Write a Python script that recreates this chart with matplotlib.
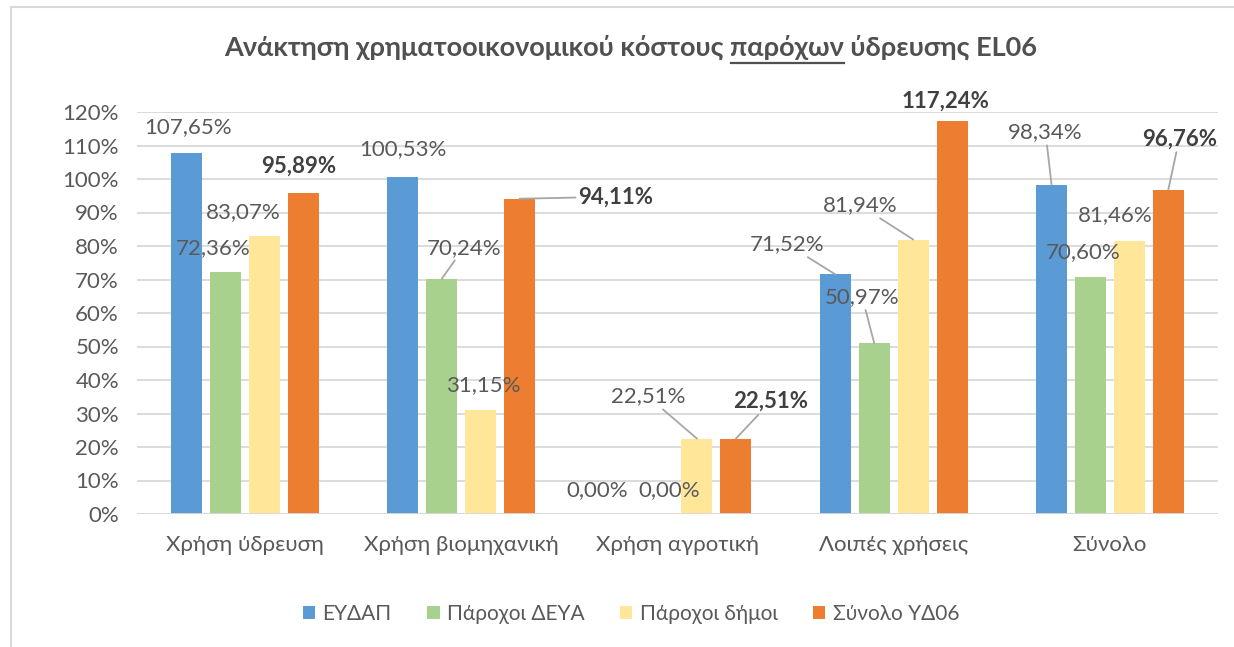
import matplotlib
matplotlib.use("Agg")
import matplotlib.pyplot as plt
from matplotlib.lines import Line2D
from matplotlib.text import Text

plt.rcParams['font.family'] = ['Lato', 'Noto Sans', 'DejaVu Sans']

# ---- data -------------------------------------------------------------
categories = ["Χρήση ύδρευση", "Χρήση βιομηχανική", "Χρήση αγροτική",
              "Λοιπές χρήσεις", "Σύνολο"]
series_names = ["ΕΥΔΑΠ", "Πάροχοι ΔΕΥΑ", "Πάροχοι δήμοι", "Σύνολο ΥΔ06"]
eydap = [107.65, 100.53, 0.00, 71.52, 98.34]
deya = [72.36, 70.24, 0.00, 50.97, 70.60]
dimoi = [83.07, 31.15, 22.51, 81.94, 81.46]
synolo = [95.89, 94.11, 22.51, 117.24, 96.76]
yticks = list(range(0, 121, 10))
title_pre = "Ανάκτηση χρηματοοικονομικού κόστους "
title_ul = "παρόχων"
title_post = " ύδρευσης EL06"

series = [eydap, deya, dimoi, synolo]
colors = ["#5B9BD5", "#A9D18E", "#FFE699", "#ED7D31"]

# label placement: pixel offset from the top-centre of each bar
# (one row per series, one entry per category), and leader-line flags
label_offsets = [
    [(1, 26), (0, 28), (-22, 24), (-48, 30), (-6, 52)],
    [(-13, 24), (22, 31), (11, 24), (-12, 46), (-7, 25)],
    [(-21, 24), (3, 25), (-49, 42), (-53, 34), (-14, 26)],
    [(-5, 27), (96, 2), (35, 37), (-7, 20), (11, 51)],
]
leaders = [
    [False, False, False, True, True],
    [False, True, False, True, False],
    [False, False, True, True, False],
    [False, True, True, False, True],
]

FS = 16
W, H = 1234, 647
fig = plt.figure(figsize=(W / 100, H / 100), dpi=100)
fig.patch.set_facecolor("white")

# chart-area frame
fig.add_artist(Line2D([11 / W, 11 / W], [0, 1 - 7 / H], color="#D9D9D9", lw=1.5))
fig.add_artist(Line2D([11 / W, 1], [1 - 7 / H, 1 - 7 / H], color="#D9D9D9", lw=1.5))

ax_left, ax_right, ax_top, ax_bot = 137, 1218, 112, 514
ax = fig.add_axes([ax_left / W, 1 - ax_bot / H, (ax_right - ax_left) / W,
                   (ax_bot - ax_top) / H])

n = len(series)
step = 0.18
width = 0.143
xs = list(range(len(categories)))
for i, (vals, col, name) in enumerate(zip(series, colors, series_names)):
    pos = [x + (i - (n - 1) / 2) * step for x in xs]
    ax.bar(pos, vals, width=width, color=col, label=name, zorder=3)
    for j, (p, v) in enumerate(zip(pos, vals)):
        txt = f"{v:.2f}".replace(".", ",") + "%"
        bold = (i == n - 1)
        dx, dy = label_offsets[i][j]
        kw = dict(xy=(p, v), xytext=(dx, dy), textcoords="offset pixels",
                  ha="center", va="center", fontsize=FS,
                  color="#404040" if bold else "#595959",
                  fontweight="bold" if bold else "normal",
                  annotation_clip=False, zorder=5)
        if leaders[i][j]:
            kw["arrowprops"] = dict(arrowstyle="-", color="#A6A6A6", lw=1.3,
                                    shrinkA=0, shrinkB=0)
        ax.annotate(txt, **kw)

ax.set_xlim(-0.5, len(categories) - 0.5)
ax.set_ylim(0, 120)
ax.set_yticks(yticks)
ax.set_yticklabels([f"{t}%" for t in yticks])
ax.set_xticks(xs)
ax.set_xticklabels(categories)
ax.tick_params(axis="y", length=0, pad=13, labelsize=FS, labelcolor="#595959")
ax.tick_params(axis="x", length=0, pad=15, labelsize=FS, labelcolor="#595959")
ax.grid(axis="y", color="#D9D9D9", lw=1.3, zorder=0)
for s in ax.spines.values():
    s.set_visible(False)
ax.axhline(0, color="#D9D9D9", lw=1.3, zorder=4)

# title with underlined word
fig.canvas.draw()
renderer = fig.canvas.get_renderer()
tprops = dict(fontsize=19.5, fontweight="bold", color="#505050")


def text_width(s):
    t = Text(0, 0, s, **tprops)
    t.set_figure(fig)
    return t.get_window_extent(renderer).width


full = title_pre + title_ul + title_post
wf = text_width(full)
w_pre_sp = text_width(title_pre + title_ul) - text_width(title_ul)
w_ul = text_width(title_ul)
cx, cy = 631, 47
x0 = cx - wf / 2
fig.text(x0 / W, 1 - cy / H, full, ha="left", va="center", **tprops)
ul_y = cy + 16
fig.add_artist(Line2D([(x0 + w_pre_sp) / W, (x0 + w_pre_sp + w_ul) / W],
                      [1 - ul_y / H, 1 - ul_y / H], color="#505050", lw=1.6))

handles, labels = ax.get_legend_handles_labels()
fig.legend(handles, labels, loc="center", bbox_to_anchor=(631 / W, 1 - 614 / H),
           ncol=4, frameon=False, fontsize=15, labelcolor="#595959",
           handlelength=0.6, handleheight=0.6, handletextpad=0.35,
           columnspacing=1.7)

fig.savefig("out.png", dpi=100, facecolor="white")
